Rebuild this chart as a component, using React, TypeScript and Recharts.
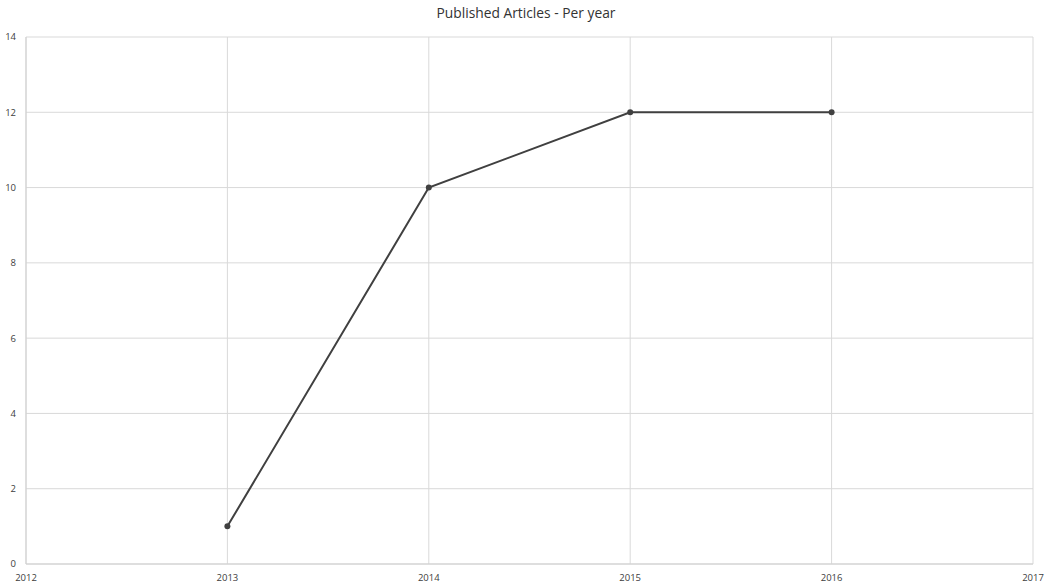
import React from "react";
import { LineChart, Line, XAxis, YAxis, CartesianGrid } from "recharts";

const years = [2013, 2014, 2015, 2016];
const articles = [1, 10, 12, 12];
const xTicks = [2012, 2013, 2014, 2015, 2016, 2017];
const yTicks = [0, 2, 4, 6, 8, 10, 12, 14];

const data = years.map((y, i) => ({ year: y, count: articles[i] }));

const tickStyle = { fontSize: 9.5, fill: "#404040", fontFamily: "'Open Sans', sans-serif" };

export default function App() {
  return (
    <div style={{ position: "absolute", left: 0, top: 0, width: 1050, height: 586, background: "#fff" }}>
      <div
        style={{
          position: "absolute",
          top: 3,
          left: 0,
          width: 1052,
          textAlign: "center",
          fontFamily: "'Open Sans', sans-serif",
          fontSize: 13.8,
          color: "#333",
        }}
      >
        Published Articles - Per year
      </div>
      <LineChart width={1050} height={586} data={data} margin={{ top: 37, right: 17, bottom: 0, left: 6 }}>
        <CartesianGrid stroke="#d9d9d9" strokeWidth={1} verticalValues={xTicks} horizontalValues={yTicks} />
        <XAxis
          dataKey="year"
          type="number"
          domain={[2012, 2017]}
          ticks={xTicks}
          tick={tickStyle}
          tickLine={false}
          tickSize={0}
          tickMargin={10}
          height={22}
          axisLine={{ stroke: "#d0d0d0" }}
          interval={0}
        />
        <YAxis
          type="number"
          domain={[0, 14]}
          ticks={yTicks}
          tick={tickStyle}
          tickLine={false}
          tickSize={0}
          tickMargin={10}
          width={20}
          axisLine={{ stroke: "#d0d0d0" }}
          interval={0}
        />
        <Line
          dataKey="count"
          stroke="#404040"
          strokeWidth={2}
          dot={{ r: 3, fill: "#404040", stroke: "#404040", strokeWidth: 0 }}
          isAnimationActive={false}
        />
      </LineChart>
    </div>
  );
}
